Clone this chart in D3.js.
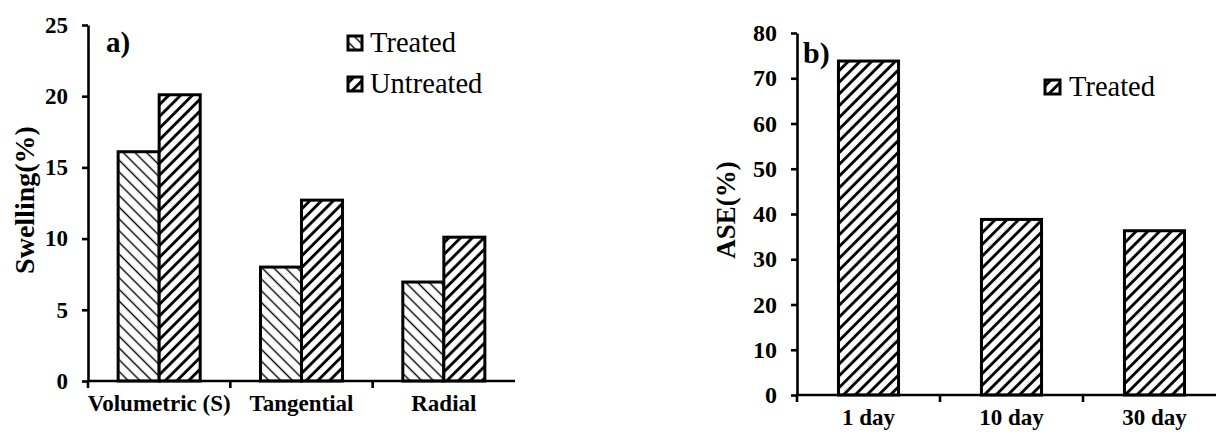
<!DOCTYPE html>
<html>
<head>
<meta charset="utf-8">
<script src="https://cdn.jsdelivr.net/npm/d3@7"></script>
<style>
  html, body { margin: 0; padding: 0; background: #fff; }
  svg { display: block; font-family: "Liberation Serif", "DejaVu Serif", serif; }
</style>
</head>
<body>
<svg id="chart" width="1216" height="435"></svg>
<script>
// Panel a: swelling by direction
const swellCategories = ["Volumetric (S)", "Tangential", "Radial"];
const swellSeries = ["Treated", "Untreated"];
const swellTreated = [16.1, 8.0, 6.95];
const swellUntreated = [20.1, 12.7, 10.1];
const swellTicks = [0, 5, 10, 15, 20, 25];

// Panel b: anti-swelling efficiency over time
const aseCategories = ["1 day", "10 day", "30 day"];
const aseSeries = ["Treated"];
const aseTreated = [73.8, 38.8, 36.3];
const aseTicks = [0, 10, 20, 30, 40, 50, 60, 70, 80];

const svg = d3.select("#chart");
const defs = svg.append("defs");

// hatch patterns: "\" thin and "/" bold
function hatch(id, angle, width) {
  const p = defs.append("pattern")
    .attr("id", id)
    .attr("patternUnits", "userSpaceOnUse")
    .attr("width", 8.3).attr("height", 8.3)
    .attr("patternTransform", `rotate(${angle})`);
  p.append("rect").attr("width", 8.3).attr("height", 8.3).attr("fill", "#fff");
  p.append("line")
    .attr("x1", 4.15).attr("x2", 4.15).attr("y1", -1).attr("y2", 10)
    .attr("stroke", "#000").attr("stroke-width", width);
}
hatch("hatchBack", -45, 1.4);
hatch("hatchFwd", 45, 2.9);

function axes(g, x0, y, ticks, tickFont) {
  const yAxis = d3.axisLeft(y).tickValues(ticks).tickSize(6).tickSizeOuter(0).tickPadding(14);
  const ya = g.append("g").attr("transform", `translate(${x0.range()[0]},0)`).call(yAxis);
  ya.selectAll("path, line").attr("stroke", "#000").attr("stroke-width", 2.6);
  ya.selectAll("text").attr("font-size", tickFont).attr("font-weight", "bold")
    .attr("font-family", "Liberation Serif").attr("fill", "#000");

  const y0 = y(0);
  const xa = g.append("g").attr("transform", `translate(0,${y0})`)
    .call(d3.axisBottom(x0).tickSize(0).tickPadding(14));
  xa.select(".domain").remove();
  xa.selectAll("text").attr("font-size", 23).attr("font-weight", "bold")
    .attr("font-family", "Liberation Serif").attr("fill", "#000")
    .attr("dy", "0.71em");

  // baseline and category boundary ticks
  const [r0, r1] = x0.range();
  g.append("line").attr("x1", r0).attr("x2", r1).attr("y1", y0).attr("y2", y0)
    .attr("stroke", "#000").attr("stroke-width", 2.6);
  const bounds = d3.range(x0.domain().length).map(i => r0 + i * x0.step());
  g.selectAll(".bt").data(bounds).join("line")
    .attr("x1", d => d).attr("x2", d => d).attr("y1", y0).attr("y2", y0 + 7)
    .attr("stroke", "#000").attr("stroke-width", 2.6);
}

// ---------- panel a ----------
{
  const g = svg.append("g");
  const x0 = d3.scaleBand().domain(swellCategories).range([88, 515]).padding(0);
  const x1 = d3.scaleBand().domain(swellSeries).range([0, x0.bandwidth()])
    .paddingInner(0).paddingOuter(0.735);
  const y = d3.scaleLinear().domain([0, 25]).range([381, 25]);
  const fills = { Treated: "url(#hatchBack)", Untreated: "url(#hatchFwd)" };
  const rows = swellCategories.flatMap((c, i) => [
    { c, s: "Treated", v: swellTreated[i] },
    { c, s: "Untreated", v: swellUntreated[i] }
  ]);

  g.selectAll(".bar").data(rows).join("rect")
    .attr("x", d => x0(d.c) + x1(d.s))
    .attr("y", d => y(d.v))
    .attr("width", x1.bandwidth())
    .attr("height", d => y(0) - y(d.v))
    .attr("fill", d => fills[d.s])
    .attr("stroke", "#000").attr("stroke-width", 3);

  axes(g, x0, y, swellTicks, 23);

  g.append("text").attr("transform", "translate(34,200) rotate(-90)")
    .attr("text-anchor", "middle").attr("font-size", 28).attr("font-weight", "bold")
    .text("Swelling(%)");
  g.append("text").attr("x", 106).attr("y", 52)
    .attr("font-size", 29).attr("font-weight", "bold").text("a)");

  const leg = g.selectAll(".leg").data(swellSeries).join("g")
    .attr("transform", (d, i) => `translate(348,${36 + i * 41})`);
  leg.append("rect").attr("width", 14).attr("height", 14)
    .attr("fill", d => fills[d]).attr("stroke", "#000").attr("stroke-width", 3);
  leg.append("text").attr("x", 22).attr("y", 16).attr("font-size", 28.5).text(d => d);
}

// ---------- panel b ----------
{
  const g = svg.append("g");
  const x0 = d3.scaleBand().domain(aseCategories).range([797, 1226]).padding(0);
  const x1 = d3.scaleBand().domain(aseSeries).range([0, x0.bandwidth()])
    .paddingInner(0).paddingOuter(0.69);
  const y = d3.scaleLinear().domain([0, 80]).range([395, 33]);
  const rows = aseCategories.map((c, i) => ({ c, s: "Treated", v: aseTreated[i] }));

  g.selectAll(".bar").data(rows).join("rect")
    .attr("x", d => x0(d.c) + x1(d.s))
    .attr("y", d => y(d.v))
    .attr("width", x1.bandwidth())
    .attr("height", d => y(0) - y(d.v))
    .attr("fill", "url(#hatchFwd)")
    .attr("stroke", "#000").attr("stroke-width", 3);

  axes(g, x0, y, aseTicks, 24);

  g.append("text").attr("transform", "translate(735,210) rotate(-90)")
    .attr("text-anchor", "middle").attr("font-size", 27).attr("font-weight", "bold")
    .text("ASE(%)");
  g.append("text").attr("x", 803).attr("y", 63)
    .attr("font-size", 30).attr("font-weight", "bold").text("b)");

  const leg = g.selectAll(".leg").data(aseSeries).join("g")
    .attr("transform", "translate(1045,80)");
  leg.append("rect").attr("width", 15).attr("height", 14)
    .attr("fill", "url(#hatchFwd)").attr("stroke", "#000").attr("stroke-width", 3);
  leg.append("text").attr("x", 24).attr("y", 16).attr("font-size", 28.5).text(d => d);
}
</script>
</body>
</html>
